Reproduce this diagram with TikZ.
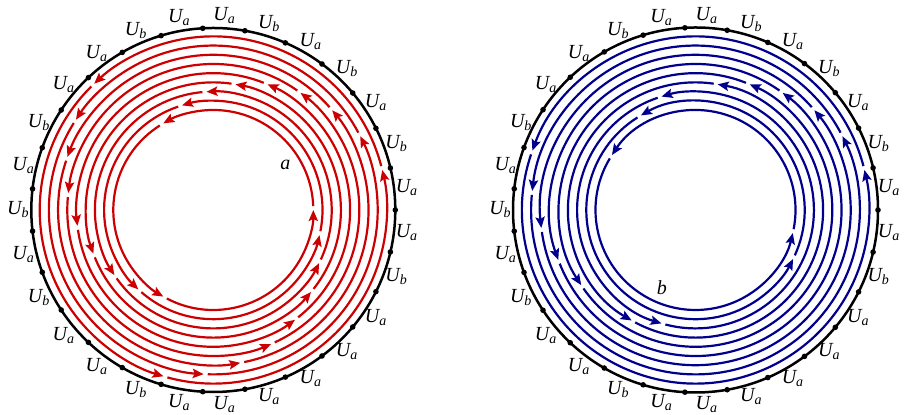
\documentclass[tikz,border=0pt]{standalone}
\usepackage{fontspec}
\setmainfont{Liberation Serif}
\usetikzlibrary{arrows.meta}
\definecolor{rosso}{RGB}{204,0,0}
\definecolor{blu}{RGB}{0,0,140}
\tikzset{
  bordo/.style={black, line width=1.25pt},
  etichetta/.style={font=\fontsize{10}{12}\selectfont\itshape, inner sep=0pt},
  linea/.style={line width=1.1pt, -{Stealth[length=5.5pt, width=4.6pt, inset=1pt]}}
}
\begin{document}
\begin{tikzpicture}[x=0.5pt, y=0.5pt]
    \useasboundingbox (0,0) rectangle (904,415);
    \coordinate (ca) at (213.3,205);
    \coordinate (cb) at (695.5,205);
    % Spirale a
    \begin{scope}[shift={(ca)}]
        \foreach \n in {0,...,8} {
            \pgfmathsetmacro{\raggio}{100+9.2*\n}
            \pgfmathsetmacro{\lacuna}{4/\raggio*180/pi}
            \foreach \m in {0,1,2} {
                \pgfmathsetmacro{\ai}{(9*\m-\n)*360/27+\lacuna}
                \pgfmathsetmacro{\af}{(9*\m+9-\n)*360/27}
                \draw[linea, rosso] (\ai:\raggio) arc[start angle=\ai, end angle=\af, radius=\raggio];
            }
        }
        % Bordo e punti
        \draw[bordo] (0,0) circle[radius=182];
        \foreach \k in {0,...,26}
            \fill ({\k*360/27}:182) circle[radius=2.8];
        \foreach \l [count=\j from 0] in {a,b,a,b,a,b,a,a,b,a,a,b,a,b,a,b,a,a,b,a,a,a,a,a,a,b,a}
            \node[etichetta] (la\j) at ({(\j+0.5)*360/27}:195) {U\textsubscript{\l}};
        \node[etichetta] (pa) at (32:85) {a};
    \end{scope}
    % Spirale b
    \begin{scope}[shift={(cb)}]
        \foreach \n/\p/\q in {0/11/26, 1/9/25, 2/8/19, 3/6/18, 4/5/16, 5/4/15, 6/3/14, 7/2/13, 8/1/12} {
            \pgfmathsetmacro{\raggio}{100+9.2*\n}
            \pgfmathsetmacro{\lacuna}{4/\raggio*180/pi}
            \pgfmathsetmacro{\ai}{\p*360/27+\lacuna}
            \pgfmathsetmacro{\af}{\q*360/27}
            \draw[linea, blu] (\ai:\raggio) arc[start angle=\ai, end angle=\af, radius=\raggio];
            \pgfmathsetmacro{\ai}{\q*360/27+\lacuna}
            \pgfmathsetmacro{\af}{(\p+27)*360/27}
            \draw[linea, blu] (\ai:\raggio) arc[start angle=\ai, end angle=\af, radius=\raggio];
        }
        % Bordo e punti
        \draw[bordo] (0,0) circle[radius=182.5];
        \foreach \k in {0,...,26}
            \fill ({\k*360/27}:182.5) circle[radius=2.8];
        \foreach \l [count=\j from 0] in {a,b,a,b,a,b,a,a,b,a,a,b,a,b,a,b,a,a,b,a,a,a,a,a,a,b,a}
            \node[etichetta] (lb\j) at ({(\j+0.5)*360/27}:195) {U\textsubscript{\l}};
        \node[etichetta] (pb) at (246.6:85) {b};
    \end{scope}
\end{tikzpicture}
\end{document}
